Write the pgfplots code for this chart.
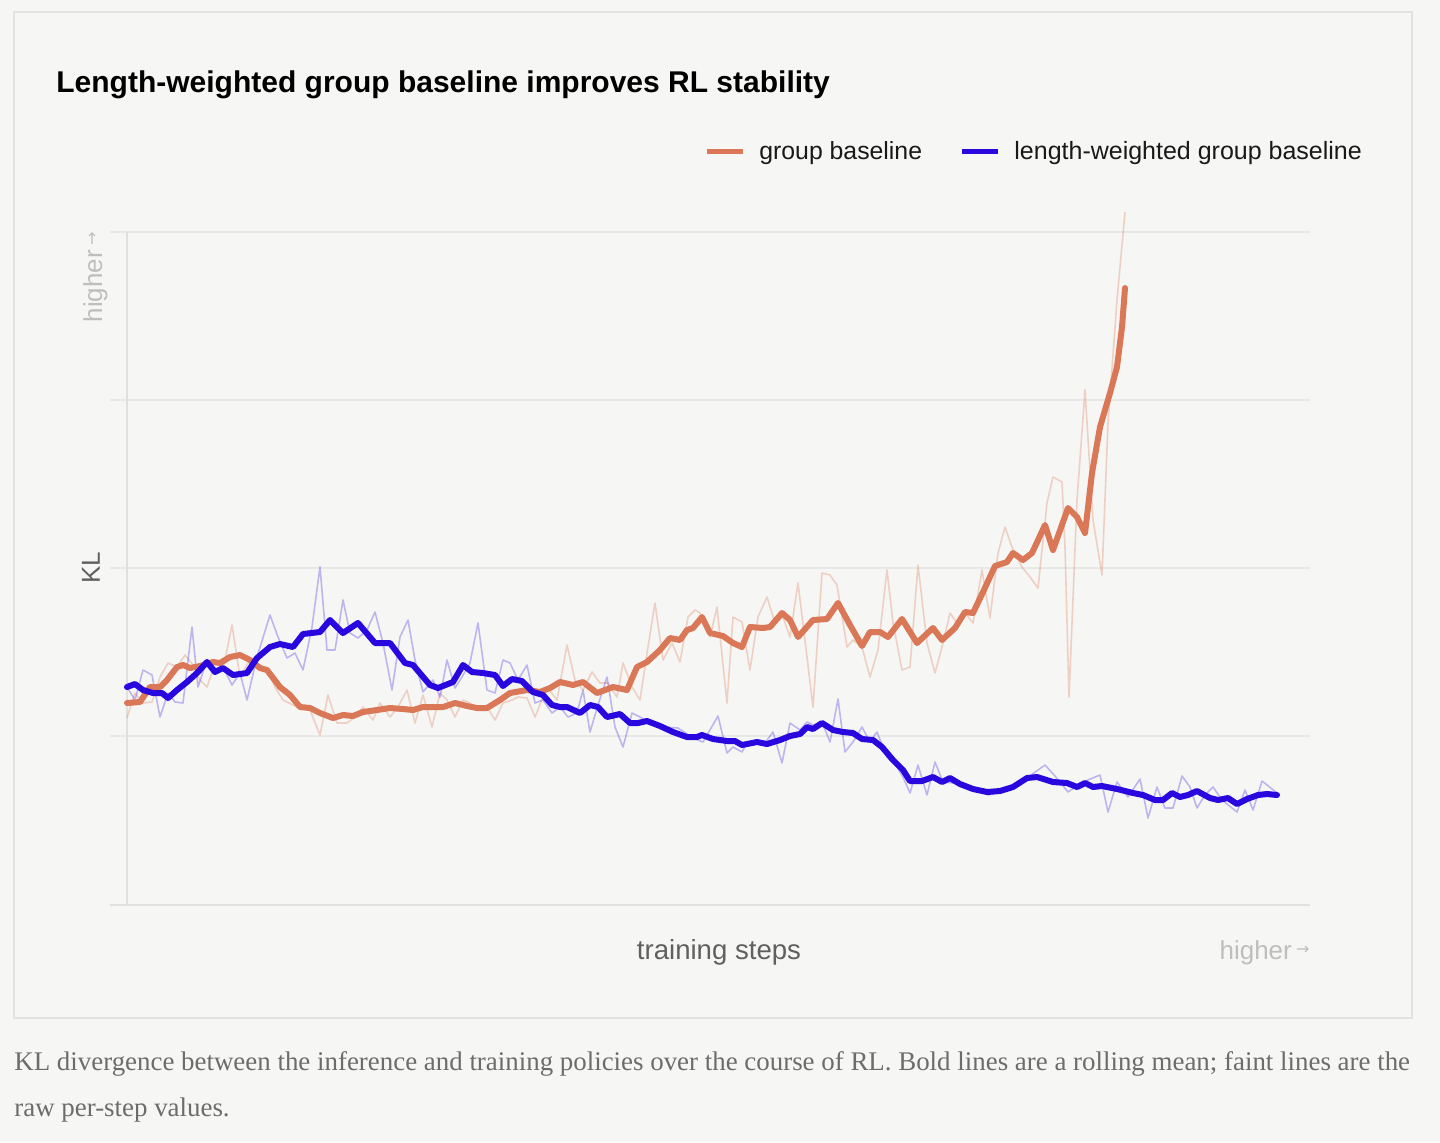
\documentclass[border=0pt]{standalone}
\usepackage{fontspec}
\setmainfont{Liberation Sans}
\newfontfamily\capfont{Liberation Serif}
\newfontfamily\symfont{DejaVu Sans}
\usepackage{pgfplots}
\usepackage{pgfplotstable}
\pgfplotsset{compat=1.18}
\definecolor{bgcol}{RGB}{246,246,244}
\definecolor{panelcol}{RGB}{226,226,224}
\definecolor{gridcol}{RGB}{232,232,230}
\definecolor{basecol}{RGB}{224,224,222}
\definecolor{orangec}{RGB}{217,119,87}
\definecolor{bluec}{RGB}{40,8,222}
\definecolor{labgray}{RGB}{96,96,96}
\definecolor{lightgray}{RGB}{190,190,190}
\definecolor{capgray}{RGB}{108,108,108}

% x = training step position, y = KL (arbitrary units)
\pgfplotstableread{
x y
127 187
135 212
143 202
152 203
160 228
168 242
177 238
185 250
193 240
200 225
207 218
213 235
223 235
232 280
240 228
248 242
257 242
267 235
275 218
283 205
297 198
310 195
320 170
328 210
337 182
347 182
355 188
363 198
373 185
380 202
390 188
398 198
407 215
415 182
423 210
432 178
440 212
447 205
455 188
463 205
470 202
478 195
487 198
495 185
503 202
512 205
518 208
527 207
535 188
547 218
557 205
567 260
575 225
583 215
592 233
600 222
608 222
617 208
623 242
632 218
640 205
647 252
655 302
663 245
672 262
680 243
688 288
695 295
700 292
710 268
717 298
727 202
733 288
742 283
750 235
758 288
767 308
775 282
783 288
790 268
798 322
807 248
813 198
822 332
830 330
837 320
847 258
853 265
862 258
870 228
878 255
887 335
893 282
902 235
910 238
918 340
927 262
935 232
943 262
950 292
957 282
965 292
973 282
982 335
990 287
998 352
1005 378
1013 355
1022 338
1030 328
1038 317
1047 402
1053 428
1062 423
1065 358
1069 208
1077 405
1085 515
1093 385
1102 330
1108 482
1117 605
1125 693
}\orangeraw

\pgfplotstableread{
x y
127 202
140 203
150 218
160 218
167 225
177 238
183 240
190 237
200 239
213 243
220 242
230 248
240 250
250 245
260 237
267 235
280 218
290 210
300 198
310 197
320 192
333 187
343 190
353 189
363 193
377 195
390 197
403 196
413 195
423 198
443 198
455 202
467 199
477 197
487 197
500 205
510 212
527 215
540 213
550 217
560 223
573 220
583 223
597 212
613 218
627 215
637 238
647 243
660 255
670 267
680 265
687 275
693 277
702 288
710 272
723 269
733 262
742 258
750 278
763 277
770 278
782 292
790 285
798 268
813 285
827 286
838 302
850 280
862 259
870 273
880 273
888 268
902 286
917 262
933 277
942 265
955 277
965 293
973 292
983 313
995 339
1007 343
1013 352
1023 345
1032 352
1045 380
1053 355
1068 397
1077 388
1085 372
1092 432
1100 478
1110 512
1117 538
1122 578
1125 617
}\orangemean

\pgfplotstableread{
x y
127 218
135 205
143 235
152 230
160 188
168 212
175 203
183 202
192 278
198 218
207 245
217 235
223 238
232 220
240 232
247 205
257 248
270 290
278 268
287 247
295 252
303 235
312 278
320 338
327 255
335 255
343 305
350 272
358 267
367 275
375 293
383 262
392 215
400 268
408 285
415 245
423 213
433 225
440 208
447 245
455 217
462 228
470 242
478 282
487 215
495 212
503 245
510 242
518 225
527 240
535 202
543 205
552 192
560 198
568 188
577 192
583 215
590 173
598 200
607 228
615 178
623 158
632 192
640 188
650 182
663 178
678 177
693 167
703 163
718 189
727 152
733 158
742 153
747 162
757 165
765 162
773 173
782 142
790 182
800 175
807 183
813 180
822 183
830 163
838 206
845 153
853 163
862 178
870 163
877 173
887 148
897 138
903 128
910 112
918 140
927 110
935 143
943 123
953 122
962 120
970 115
980 115
988 110
1000 113
1013 120
1027 127
1045 140
1055 129
1068 113
1083 123
1100 130
1108 93
1117 123
1128 108
1140 126
1148 87
1157 118
1165 97
1173 97
1182 129
1190 118
1197 97
1205 110
1213 118
1222 105
1237 93
1245 115
1253 95
1262 124
1277 112
}\blueraw

\pgfplotstableread{
x y
127 218
135 221
143 215
153 212
162 212
168 207
177 215
187 223
197 232
207 243
215 233
223 237
233 230
247 232
257 247
270 258
280 261
293 258
303 271
320 273
330 285
343 272
358 282
375 262
390 262
405 242
413 240
430 220
438 217
453 223
463 240
472 233
483 232
495 230
503 219
512 226
522 224
533 213
543 210
552 200
560 198
567 198
580 192
590 200
598 198
607 188
620 191
630 182
638 182
647 184
660 179
673 173
687 168
697 168
702 170
713 166
727 164
735 164
742 160
757 163
767 161
780 165
790 169
800 171
807 178
813 176
822 182
833 175
843 173
853 172
862 166
873 165
882 158
893 145
903 135
910 124
922 124
933 128
942 123
950 127
960 121
973 116
987 113
1000 114
1013 118
1027 127
1037 128
1053 123
1067 122
1077 118
1085 122
1093 118
1102 119
1117 116
1133 112
1143 110
1155 105
1163 105
1172 112
1180 108
1188 110
1197 114
1210 107
1218 105
1228 107
1237 101
1247 106
1258 110
1267 111
1277 110
}\bluemean

\begin{document}
\begin{tikzpicture}
% page background and panel
\fill[bgcol] (0pt,0pt) rectangle (720pt,-571pt);
\draw[panelcol, line width=1pt] (7pt,-6pt) rectangle (706pt,-509pt);

% title
\node[anchor=base west, inner sep=0pt, font=\fontsize{15}{18}\selectfont\bfseries, text=black]
  at (28pt,-46pt) {Length-weighted group baseline improves RL stability};

% legend
\draw[orangec, line width=2.5pt] (353.5pt,-75.5pt) -- (371.5pt,-75.5pt);
\node[anchor=base west, inner sep=0pt, font=\fontsize{12.4}{15}\selectfont, text=black!90]
  at (379.5pt,-79.5pt) {group baseline};
\draw[bluec, line width=2.5pt] (481pt,-75.5pt) -- (499pt,-75.5pt);
\node[anchor=base west, inner sep=0pt, font=\fontsize{12.5}{15}\selectfont, text=black!90]
  at (507pt,-79.5pt) {length-weighted group baseline};

\begin{axis}[
  at={(55pt,-452.5pt)}, anchor=south west,
  scale only axis, width=600pt, height=352.5pt,
  xmin=110, xmax=1310, ymin=0, ymax=705,
  axis line style={draw=none},
  xtick=\empty, ytick={169,337,505,673}, yticklabels={},
  major tick length=0pt,
  ymajorgrids, grid style={gridcol, line width=0.9pt},
  clip=false,
]
\draw[basecol, line width=1.3pt] (axis cs:110,0) -- (axis cs:1310,0);
\draw[basecol, line width=0.8pt] (axis cs:127,0) -- (axis cs:127,673);
\addplot[orangec, opacity=0.3, line width=0.8pt, line join=round, no markers] table {\orangeraw};
\addplot[bluec, opacity=0.27, line width=0.8pt, line join=round, no markers] table {\blueraw};
\addplot[orangec, line width=3pt, line join=round, line cap=round, no markers] table {\orangemean};
\addplot[bluec, line width=3pt, line join=round, line cap=round, no markers] table {\bluemean};
\end{axis}

% axis labels
\node[rotate=90, inner sep=0pt, font=\fontsize{13}{15}\selectfont, text=labgray]
  at (45.5pt,-284pt) {KL};
\node[rotate=90, anchor=base east, inner sep=0pt, font=\fontsize{13}{15}\selectfont, text=lightgray]
  at (51pt,-116pt) {higher\,\raisebox{0.35ex}{\symfont\fontsize{8}{9}\selectfont →}};
\node[anchor=base, inner sep=0pt, font=\fontsize{13.8}{16}\selectfont, text=labgray]
  at (359.5pt,-479.5pt) {training steps};
\node[anchor=base east, inner sep=0pt, font=\fontsize{13}{16}\selectfont, text=lightgray]
  at (655pt,-479.5pt) {higher\,\raisebox{0.35ex}{\symfont\fontsize{8}{9}\selectfont →}};

% caption
\node[anchor=base west, inner sep=0pt, font=\capfont\fontsize{13.45}{16}\selectfont, text=capgray]
  at (7pt,-535pt) {KL divergence between the inference and training policies over the course of RL. Bold lines are a rolling mean; faint lines are the};
\node[anchor=base west, inner sep=0pt, font=\capfont\fontsize{13.45}{16}\selectfont, text=capgray]
  at (7pt,-558pt) {raw per-step values.};
\end{tikzpicture}
\end{document}
